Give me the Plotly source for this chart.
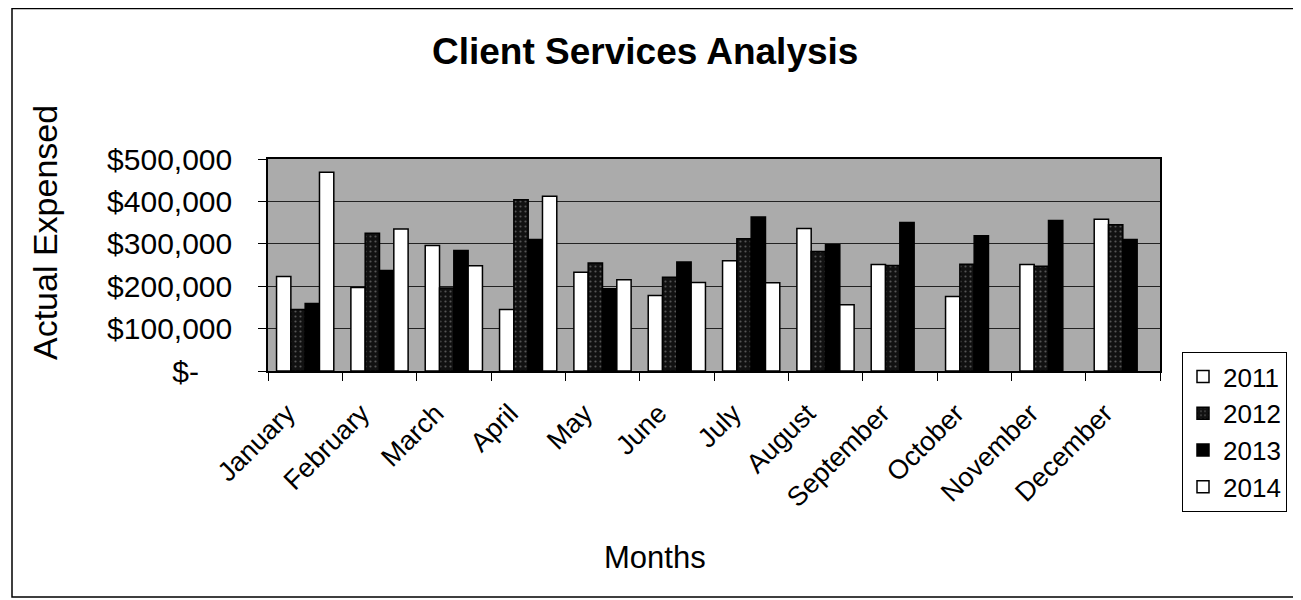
import plotly.graph_objects as go

months = ["January", "February", "March", "April", "May", "June", "July",
          "August", "September", "October", "November", "December"]
y2011 = [223000, 197000, 296000, 145000, 233000, 178000, 260000, 336000, 251000, 176000, 251000, 358000]
y2012 = [145000, 325000, 196000, 404000, 255000, 221000, 312000, 282000, 249000, 252000, 247000, 345000]
y2013 = [159000, 237000, 284000, 310000, 194000, 257000, 363000, 298000, 350000, 319000, 355000, 310000]
y2014 = [469000, 335000, 248000, 412000, 215000, 209000, 208000, 156000, None, None, None, None]
y_ticks = [0, 100000, 200000, 300000, 400000, 500000]
y_tick_text = ["$-\u00a0\u00a0\u00a0\u00a0", "$100,000", "$200,000", "$300,000", "$400,000", "$500,000"]

FONT = "Liberation Sans, Arial, sans-serif"

fig = go.Figure()
fig.add_trace(go.Bar(name="2011", x=months, y=y2011,
                     marker=dict(color="white", line=dict(color="black", width=1.5))))
fig.add_trace(go.Bar(name="2012", x=months, y=y2012,
                     marker=dict(color="#111111", line=dict(color="black", width=1.5),
                                 pattern=dict(shape=".", fgcolor="#9a9a9a", bgcolor="#111111",
                                              size=5, solidity=0.15))))
fig.add_trace(go.Bar(name="2013", x=months, y=y2013,
                     marker=dict(color="black", line=dict(color="black", width=1.5))))
fig.add_trace(go.Bar(name="2014", x=months, y=y2014,
                     marker=dict(color="white", line=dict(color="black", width=1.5))))

# page has an 8px body margin; figure coords = page coords - 8
OFF = 8
W, H = 1301 - OFF, 600 - OFF
L, R, T, B = 268 - OFF, 1160 - OFF, 159 - OFF, 371 - OFF
pw, ph = R - L, B - T

def px(x_page):
    return (x_page - OFF - L) / pw

def py(y_page):
    return (B - (y_page - OFF)) / ph

fig.update_layout(
    width=W, height=H,
    margin=dict(l=L, r=W - R, t=T, b=H - B, autoexpand=False),
    paper_bgcolor="white",
    plot_bgcolor="#ababab",
    barmode="group",
    bargap=0.23,
    bargroupgap=0,
    font=dict(family=FONT, color="black", size=24),
    xaxis=dict(
        tickangle=-45, tickson="boundaries", ticks="outside", ticklen=8,
        tickcolor="black", showline=True, linecolor="black", linewidth=1.5,
        mirror=True, showgrid=False, tickfont=dict(size=27),
        ticklabelstandoff=14, ticklabelshift=-18,
    ),
    yaxis=dict(
        range=[0, 500000], tickvals=y_ticks, ticktext=y_tick_text,
        ticks="outside", ticklen=8, tickcolor="black",
        showline=True, linecolor="black", linewidth=1.5, mirror=True,
        showgrid=True, gridcolor="#222222", gridwidth=1.2,
        tickfont=dict(size=30), zeroline=False, ticklabelstandoff=20,
    ),
    legend=dict(x=px(1182), xanchor="left", y=py(352), yanchor="top",
                bordercolor="black", borderwidth=1, bgcolor="white",
                font=dict(size=26), tracegroupgap=0, itemwidth=30),
    showlegend=True,
    shapes=[dict(type="rect", xref="paper", yref="paper",
                 x0=px(12), x1=px(1298), y0=py(597), y1=py(8.5),
                 line=dict(color="black", width=1.5), layer="below")],
    annotations=[
        dict(text="<b>Client Services Analysis</b>", xref="paper", yref="paper",
             x=px(645), y=py(52), xanchor="center", yanchor="middle",
             showarrow=False, font=dict(size=37)),
        dict(text="Actual Expensed", xref="paper", yref="paper",
             x=px(45), y=py(233), xanchor="center", yanchor="middle",
             textangle=-90, showarrow=False, font=dict(size=34)),
        dict(text="Months", xref="paper", yref="paper",
             x=px(655), y=py(557), xanchor="center", yanchor="middle",
             showarrow=False, font=dict(size=31)),
    ],
)

fig.write_html("out.html")
